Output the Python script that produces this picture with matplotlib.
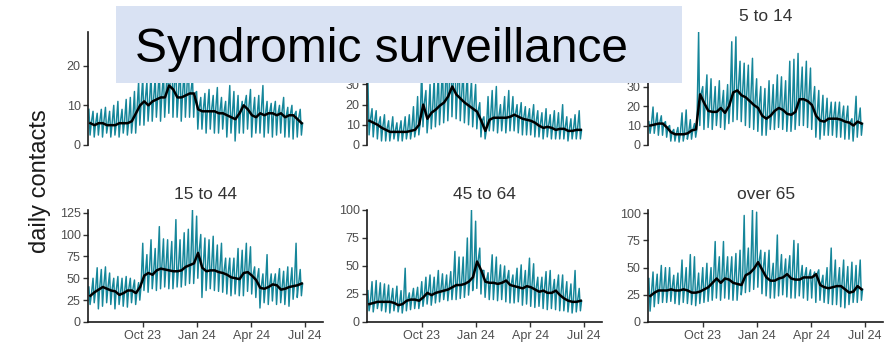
import numpy as np
import matplotlib
matplotlib.use("Agg")
import matplotlib.pyplot as plt
import matplotlib.dates as mdates
from matplotlib.patches import Rectangle

plt.rcParams['font.family'] = ['Liberation Sans', 'DejaVu Sans']

# Weekly readings per age group, weeks starting 1 Jul 2023
titles = [None, None, "5 to 14", "15 to 44", "45 to 64", "over 65"]

trend_a = [5.5, 5, 5.5, 5.5, 5, 5, 5, 5.5, 5.5, 5.5,
           6, 8, 10, 11, 10, 11, 11.5, 12, 12, 15,
           14, 12, 12, 12.5, 13, 13, 9, 8.5, 8.5, 8.5,
           8.5, 8, 8, 7.5, 7, 6.5, 8, 10, 9, 7.5,
           7, 8, 7.5, 8, 8, 7.5, 8, 7, 7.5, 7.5,
           6.5, 5.5]
peak_a = [9, 8.5, 8, 9, 9.5, 8.5, 10, 11, 9, 11.5,
          12, 13.5, 16, 17, 16, 18, 17, 19, 18, 22,
          28.5, 20, 21, 19, 22, 17, 13.5, 12, 13, 14,
          12.5, 14.5, 12, 11, 15, 13.5, 12.5, 11, 12.5, 14,
          12, 12.5, 15, 11, 10.5, 11, 10, 12, 9.5, 10,
          8.5, 9]
low_a = [2.5, 2, 2.5, 2, 3, 2, 2.5, 2, 3, 2.5, 3, 3,
         5, 5, 6, 6, 7, 6, 7, 8, 7, 7, 6, 7, 7, 7,
         4, 4, 3, 4, 3, 3, 4, 2, 3, 1, 3, 3, 4, 2, 3, 3, 2, 3, 2, 2.5,
         3, 2, 2, 1.5, 2, 2.5]

trend_b = [12, 11, 10, 8.5, 7.5, 6.5, 6.5, 6.5, 6.5, 6.5,
           7, 7.5, 10, 20, 13, 16, 17.5, 19.5, 21, 24,
           29, 25, 23, 21, 19.5, 18, 16.5, 12, 7, 12.5,
           13.5, 13.5, 13.5, 13.5, 14, 15, 14, 13, 12.5, 12,
           11, 9.5, 8.5, 9, 8.5, 7.5, 8, 8, 7, 7,
           7.5, 7.5]
peak_b = [33, 18, 17, 14, 15, 12, 14, 11, 12, 14,
          15, 19, 24, 38, 27, 30, 33, 36, 40, 45,
          56, 48, 44, 38, 36, 32, 30, 21, 14, 24,
          27, 29, 20, 24, 27, 24, 20, 21, 19, 18,
          20, 17, 16, 18, 15, 17, 16, 20, 14, 13,
          15, 17]
low_b = [5, 4, 3, 2, 2, 2, 3, 2, 2, 3, 3, 4,
         5,
         9, 6, 8, 9, 10, 11, 12, 14, 13, 12, 11, 10, 9, 8,
         4, 3,
         7, 7, 6, 7, 6, 7, 7, 6, 5, 5, 5, 4, 4, 3, 4, 3, 3, 3, 3, 2, 3, 3, 3]

trend_c = [10, 10.5, 11, 11, 9, 6.5, 5.5, 5.5, 5.5, 6,
           7.5, 8, 26, 21.5, 17.5, 17, 17, 19, 16.5, 20,
           27, 28, 25.5, 24.5, 22.5, 20.5, 19, 15, 13.5, 15,
           17.5, 19, 18, 16, 15.5, 17, 23.5, 23.5, 22.5, 20.5,
           15, 12.5, 12, 13.5, 13.5, 13.5, 13, 12, 11.5, 10,
           12, 11]
peak_c = [12, 19.5, 16.5, 15, 12, 10, 8, 9, 16.5, 18,
          13, 11, 58, 30, 36, 34, 30, 33, 28, 31,
          53, 55.5, 43, 42, 41, 44.5, 34, 30, 29, 33,
          31, 36, 35, 33, 43, 44, 47, 40, 43, 39.5,
          30, 28, 25.5, 24, 22, 22, 22, 20, 20, 13.5,
          25, 19]
low_c = [6, 6, 5, 5, 4,
         2, 2, 1.5, 2, 3, 3, 4,
         10, 8, 9, 8, 10, 9, 8, 11, 12, 13, 12, 10, 9, 8, 7,
         5, 5,
         8, 8, 9, 8, 7, 7, 8, 10, 10, 9, 8,
         4, 3, 5, 5, 5, 4, 4, 3, 3, 2, 4, 5]

trend_d = [30, 34, 37, 40, 38, 36, 35, 31, 33, 36,
           36, 33, 40, 53, 56, 54, 59, 61, 60, 59,
           58, 58, 59, 63, 65, 67, 79, 62, 58, 59,
           59, 57, 56, 54, 51, 50, 49, 56, 57, 53,
           48, 39, 38, 40, 43, 42, 37, 38, 40, 41,
           42, 44]
peak_d = [40, 50, 62, 60, 63, 56, 50, 52, 50, 52,
          50, 48, 45, 90, 77, 94, 84, 109, 95, 94,
          92, 117, 94, 102, 106, 128, 121, 100, 96, 94,
          98, 88, 90, 73, 73, 73, 84, 82, 90, 86,
          63, 61, 55, 77, 55, 55, 61, 58, 63, 62,
          90, 60]
low_d = [20, 22, 15, 18, 22, 20, 15, 20, 18, 17, 22, 20, 25,
         36, 34, 38, 36, 38, 40, 38, 38, 40, 40, 42, 44, 44, 50,
         28, 36, 38, 36, 35, 34, 32, 30, 32, 30, 30, 35, 32, 28,
         16, 22, 20, 24, 20, 22, 20, 18, 26, 28, 30]

trend_e = [16, 17, 18, 18, 18, 18, 17, 15, 16, 19,
           20, 20, 19, 22, 26, 24, 26, 27, 28, 29,
           31, 33, 33, 34, 36, 40, 54, 46, 36, 35,
           35, 34, 35, 37, 33, 32, 31, 30, 32, 31,
           29, 27, 28, 26, 26, 28, 24, 21, 19, 18,
           18, 19]
peak_e = [28, 36, 37, 35, 34, 33, 30, 32, 28, 48,
          26, 30, 31, 36, 40, 42, 40, 46, 43, 42,
          45, 63, 58, 58, 75, 100, 90, 66, 46, 44,
          60, 58, 51, 50, 46, 42, 48, 51, 46, 57,
          52, 40, 40, 45, 46, 38, 42, 42, 36, 34,
          46, 30]
low_e = [10, 9, 12, 10, 9, 8, 10, 9, 8, 10, 11, 12, 12,
         14, 16, 15, 17, 18, 20, 19, 20, 20, 21, 22, 24, 28,
         30, 25, 22, 20, 20, 19, 20, 18, 17, 17, 18, 15, 16, 14, 13,
         14, 12, 11, 12, 11, 10, 10, 9, 8, 9, 10]

trend_f = [24, 27, 29, 29, 29, 30, 29, 29, 30, 29,
           27, 27, 28, 30, 32, 36, 40, 36, 40, 39,
           36, 35, 34, 43, 45, 49, 55, 48, 41, 38,
           38, 40, 41, 44, 40, 39, 39, 41, 41, 41,
           44, 34, 32, 31, 32, 33, 33, 30, 27, 28,
           33, 30]
peak_f = [40, 46, 44, 52, 50, 50, 43, 45, 57, 50,
          62, 60, 45, 50, 54, 50, 74, 60, 74, 60,
          60, 63, 66, 98, 68, 103, 101, 66, 64, 66,
          54, 80, 62, 58, 61, 75, 72, 52, 50, 48,
          46, 48, 43, 50, 68, 57, 50, 57, 51, 55,
          52, 57]
low_f = [10, 14, 17, 18, 18, 19, 17, 16, 18, 17, 16, 15, 17,
         18, 19, 20, 22, 20, 22, 21, 20, 20, 25, 27, 28, 30,
         32, 26, 24, 22, 22, 24, 25, 23, 22, 22, 24, 22, 20, 22, 18,
         20, 18, 17, 16, 16, 14, 13, 16, 18, 18, 20]

yticks = [[0, 10, 20], [0, 10, 20, 30], [0, 10, 20, 30],
          [0, 25, 50, 75, 100, 125], [0, 25, 50, 75, 100], [0, 25, 50, 75, 100]]

tick_dates = ['2023-10-01', '2024-01-01', '2024-04-01', '2024-07-01']
tick_labels = ['Oct 23', 'Jan 24', 'Apr 24', 'Jul 24']

series = [(peak_a, low_a, trend_a), (peak_b, low_b, trend_b), (peak_c, low_c, trend_c),
          (peak_d, low_d, trend_d), (peak_e, low_e, trend_e), (peak_f, low_f, trend_f)]

TEAL = '#15869a'
W, H = 896, 354
start = mdates.date2num(np.datetime64('2023-07-01'))
x_end = mdates.date2num(np.datetime64('2024-08-01'))

fig = plt.figure(figsize=(W / 100, H / 100), dpi=100)
fig.patch.set_facecolor('white')

col_left = [88.3, 367.3, 648.3]
col_w = 235
row_top = [32, 210]
row_h = [113, 112]

for i, (peak, low, trend) in enumerate(series):
    r, c = divmod(i, 3)
    ax = fig.add_axes([col_left[c] / W, 1 - (row_top[r] + row_h[r]) / H,
                       col_w / W, row_h[r] / H])
    n = len(trend)
    wk = np.arange(n) * 7.0
    xs = np.empty(3 * n)
    ys = np.empty(3 * n)
    xs[0::3], ys[0::3] = start + wk + 1, peak
    xs[1::3], ys[1::3] = start + wk + 3, low
    xs[2::3], ys[2::3] = start + wk + 5, trend
    ax.plot(xs, ys, color=TEAL, lw=1.05)
    ax.plot(start + wk + 3.5, trend, color='black', lw=1.8)

    ax.set_xlim(start, x_end)
    ax.set_ylim(0, max(peak))
    ax.set_yticks(yticks[i])
    ax.set_xticks([mdates.date2num(np.datetime64(d)) for d in tick_dates])
    for s in ('top', 'right'):
        ax.spines[s].set_visible(False)
    for s in ('left', 'bottom'):
        ax.spines[s].set_linewidth(1.2)
        ax.spines[s].set_color('#1a1a1a')
    ax.tick_params(direction='out', length=3.5, width=1.0, color='#333333',
                   labelcolor='#4d4d4d', labelsize=9, pad=2)
    if r == 0:
        ax.spines['bottom'].set_visible(False)
        ax.tick_params(axis='x', length=0, labelbottom=False)
    else:
        ax.set_xticklabels(tick_labels)
    ax.patch.set_alpha(0)
    if titles[i]:
        ax.set_title(titles[i], fontsize=12.5, color='#333333', pad=8)

fig.text(40 / W, 1 - 181 / H, 'daily contacts', rotation=90, fontsize=17,
         ha='center', va='center', color='#1a1a1a')

fig.patches.append(Rectangle((116 / W, 1 - 83 / H), (682 - 116) / W, (83 - 6) / H,
                             transform=fig.transFigure, facecolor='#d9e2f3',
                             edgecolor='none', zorder=10))
fig.text(135 / W, 1 - 61.7 / H, 'Syndromic surveillance', fontsize=34.5,
         ha='left', va='baseline', color='black', zorder=11)

fig.savefig('out.png', dpi=100)
